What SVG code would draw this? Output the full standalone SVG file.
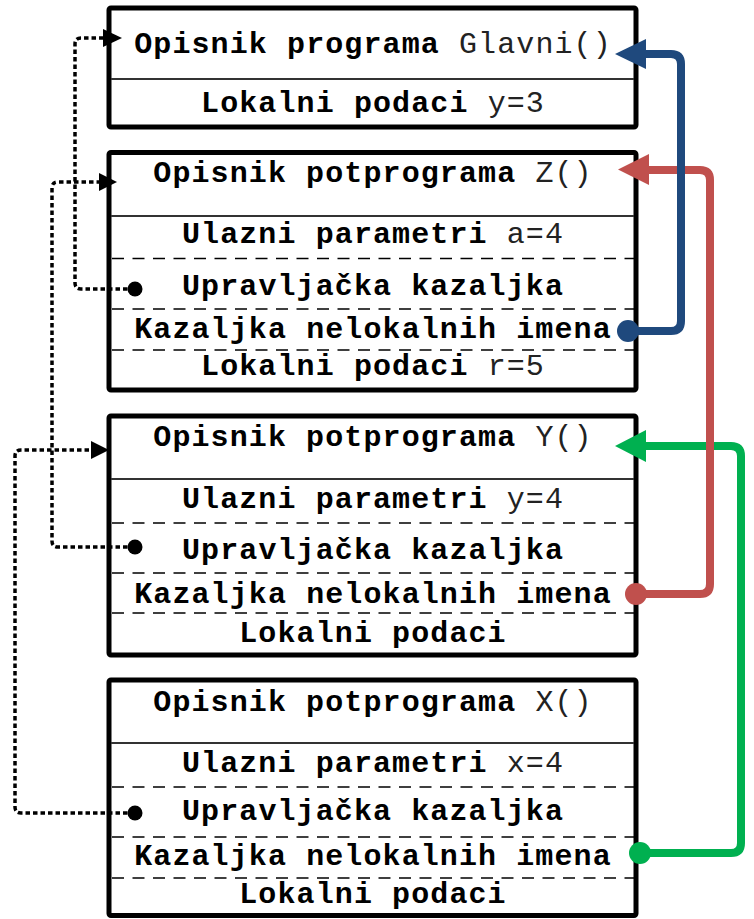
<svg xmlns="http://www.w3.org/2000/svg" width="754" height="919" viewBox="0 0 754 919">
<style>
.box{fill:#fff;stroke:#000;stroke-width:5}
.sep{stroke:#333;stroke-width:2}
.dash{stroke:#000;stroke-width:1.6;stroke-dasharray:12 8.5}
text{font-family:"Liberation Mono","Courier New",monospace;font-size:30px;letter-spacing:1.1px;text-anchor:middle;fill:#000}
.b{font-weight:bold}
.n{fill:#222}
.dot{fill:none;stroke:#000;stroke-width:3.5;stroke-dasharray:4.5 3;stroke-linejoin:round}
.col{fill:none;stroke-width:8;stroke-linejoin:round}
</style>
<g id="glavni">
<rect class="box" x="109" y="8" width="527" height="119" rx="2"/>
<line class="sep" x1="111" y1="79" x2="634" y2="79"/>
<text x="373" y="53"><tspan class="b">Opisnik programa</tspan> <tspan class="n">Glavni()</tspan></text>
<text x="373" y="112"><tspan class="b">Lokalni podaci</tspan> <tspan class="n">y=3</tspan></text>
</g>
<g id="z">
<rect class="box" x="109" y="152.5" width="527" height="237.5" rx="2"/>
<line class="sep" x1="111" y1="216" x2="634" y2="216"/>
<line class="dash" x1="112" y1="258.5" x2="634" y2="258.5"/>
<line class="dash" x1="112" y1="309" x2="634" y2="309"/>
<line class="dash" x1="112" y1="350" x2="634" y2="350"/>
<text x="373" y="182"><tspan class="b">Opisnik potprograma</tspan> <tspan class="n">Z()</tspan></text>
<text x="373" y="243"><tspan class="b">Ulazni parametri</tspan> <tspan class="n">a=4</tspan></text>
<text x="373" y="295" class="b">Upravljačka kazaljka</text>
<text x="373" y="338" class="b">Kazaljka nelokalnih imena</text>
<text x="373" y="375"><tspan class="b">Lokalni podaci</tspan> <tspan class="n">r=5</tspan></text>
</g>
<g id="y">
<rect class="box" x="109" y="416" width="527" height="239" rx="2"/>
<line class="sep" x1="111" y1="479" x2="634" y2="479"/>
<line class="dash" x1="112" y1="523" x2="634" y2="523"/>
<line class="dash" x1="112" y1="573" x2="634" y2="573"/>
<line class="dash" x1="112" y1="613" x2="634" y2="613"/>
<text x="373" y="446"><tspan class="b">Opisnik potprograma</tspan> <tspan class="n">Y()</tspan></text>
<text x="373" y="508"><tspan class="b">Ulazni parametri</tspan> <tspan class="n">y=4</tspan></text>
<text x="373" y="559" class="b">Upravljačka kazaljka</text>
<text x="373" y="603" class="b">Kazaljka nelokalnih imena</text>
<text x="373" y="642" class="b">Lokalni podaci</text>
</g>
<g id="x">
<rect class="box" x="109" y="680" width="527" height="235.5" rx="2"/>
<line class="sep" x1="111" y1="743" x2="634" y2="743"/>
<line class="dash" x1="112" y1="787" x2="634" y2="787"/>
<line class="dash" x1="112" y1="837" x2="634" y2="837"/>
<line class="dash" x1="112" y1="878" x2="634" y2="878"/>
<text x="373" y="711"><tspan class="b">Opisnik potprograma</tspan> <tspan class="n">X()</tspan></text>
<text x="373" y="772"><tspan class="b">Ulazni parametri</tspan> <tspan class="n">x=4</tspan></text>
<text x="373" y="820" class="b">Upravljačka kazaljka</text>
<text x="373" y="865" class="b">Kazaljka nelokalnih imena</text>
<text x="373" y="903" class="b">Lokalni podaci</text>
</g>
<g id="connectors">
<path class="dot" d="M135,289 H81 Q75,289 75,283 V44 Q75,38 81,38 H104"/>
<polygon points="122,38 103,29 103,47" fill="#000"/>
<circle cx="135" cy="289" r="7.5" fill="#000"/>
<path class="dot" d="M135,547 H58 Q52,547 52,541 V188 Q52,182 58,182 H100"/>
<polygon points="117,182 99,173 99,191" fill="#000"/>
<circle cx="135" cy="547" r="7.5" fill="#000"/>
<path class="dot" d="M135,813 H21 Q15,813 15,807 V456 Q15,450 21,450 H92"/>
<polygon points="109,450 91,441 91,459" fill="#000"/>
<circle cx="135" cy="813" r="7.5" fill="#000"/>
<path class="col" stroke="#00B050" d="M640,853 H731 Q741,853 741,843 V456 Q741,446 731,446 H643"/>
<polygon points="615,446 646,430 646,462" fill="#00B050"/>
<circle cx="640" cy="853" r="11" fill="#00B050"/>
<path class="col" stroke="#C0504D" d="M636,594 H700 Q710,594 710,584 V180 Q710,170 700,170 H646"/>
<polygon points="618,169.5 649,154 649,185" fill="#C0504D"/>
<circle cx="636" cy="594" r="11" fill="#C0504D"/>
<path class="col" stroke="#1F497D" d="M628,331 H671 Q681,331 681,321 V64 Q681,54 671,54 H644"/>
<polygon points="615,54 646,39 646,69" fill="#1F497D"/>
<circle cx="628" cy="331" r="11" fill="#1F497D"/>
</g>
</svg>
